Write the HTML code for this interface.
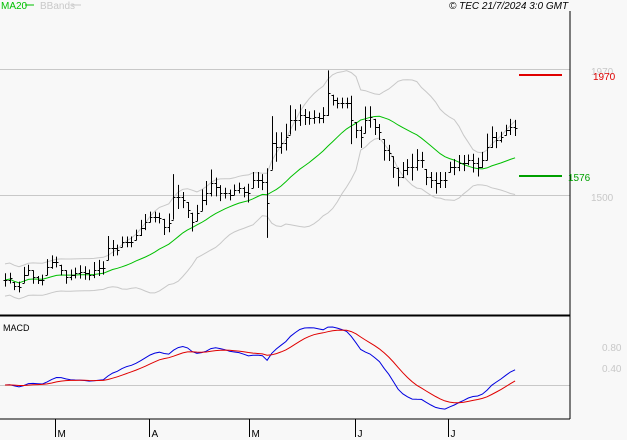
<!DOCTYPE html>
<html><head><meta charset="utf-8"><style>
html,body{margin:0;padding:0;background:#f8f8f8;}
svg{display:block;font-family:"Liberation Sans",sans-serif;}
</style></head><body>
<svg id="chart" width="627" height="440">
<rect x="0" y="0" width="627" height="440" fill="#f8f8f8"/>
<text x="1" y="9" font-size="10" fill="#00c000">MA20</text>
<line x1="25" y1="5" x2="34" y2="5" stroke="#00c000"/>
<text x="40" y="9" font-size="10" fill="#c8c8c8">BBands</text>
<line x1="72" y1="5" x2="81" y2="5" stroke="#c8c8c8"/>
<text x="449" y="9" font-size="10" font-style="italic" fill="#000">© TEC 21/7/2024 3:0 GMT</text>
<g id="grid"></g>
<g id="bands"></g>
<g id="bars"></g>
<g id="macd"></g>
<line x1="570" y1="11" x2="570" y2="419" stroke="#000"/>
<line x1="0" y1="315.5" x2="570" y2="315.5" stroke="#000" stroke-width="2"/>
<line x1="0" y1="419" x2="570" y2="419" stroke="#000"/>
<text x="3" y="331" font-size="9" fill="#000">MACD</text>
<g id="xaxis"></g>
<g id="levels"></g>
</svg>
<script>
const closes=[1183,1190,1160,1157,1202,1220,1194,1183,1183,1231,1250,1250,1220,1194,1202,1209,1213,1209,1202,1220,1228,1228,1302,1302,1295,1325,1325,1325,1351,1377,1399,1418,1418,1414,1381,1396,1493,1493,1481,1444,1399,1433,1481,1507,1545,1530,1507,1507,1500,1519,1526,1511,1507,1556,1556,1548,1470,
1694,1679,1694,1716,1780,1780,1798,1791,1787,1791,1787,1798,1880,1854,1843,1843,1843,1780,1742,1716,1780,1791,1754,1735,1668,1657,1604,1567,1593,1604,1604,1631,1631,1567,1556,1545,1556,1556,1604,1604,1619,1619,1631,1619,1604,1631,1679,1716,1705,1716,1742,1754,1750];
const spreads=[50,40,30,40,60,40,50,30,40,60,50,40,40,50,40,40,50,50,40,60,60,50,90,60,40,40,40,40,40,60,60,40,40,40,60,70,170,90,60,60,70,60,80,90,100,70,60,40,40,40,40,40,70,60,60,60,260,
200,110,80,100,110,80,80,60,50,50,40,60,170,40,40,40,40,180,60,80,100,80,60,60,80,60,80,70,60,60,100,80,60,60,60,80,60,60,40,60,60,60,40,70,70,60,100,80,60,40,40,60,60,50];
const levelValues=[1970,1576];
const gridValues=[1970,1500];
const macdTicks=["0.80","0.40"];
const monthLabels=["M","A","M","J","J"];
const monthBars=[10.7,30.8,52.1,74.8,94.7];

const NS="http://www.w3.org/2000/svg";
function mk(t,a,p){const e=document.createElementNS(NS,t);for(const k in a)e.setAttribute(k,a[k]);p.appendChild(e);return e;}
const yP=p=>195-(p-1500)*126/470;
const xB=i=>5+i*4.68;
const n=closes.length;

const grid=document.getElementById('grid');
gridValues.forEach(v=>{
 const l=mk('line',{x1:0,x2:570,y1:Math.round(yP(v))+0.5,y2:Math.round(yP(v))+0.5,stroke:'#c8c8c8'},grid);
 
 
 const t=mk('text',{x:591,y:yP(v)+6,'font-size':10,fill:'#c8c8c8'},grid);t.textContent=v;
 
 
});

const ma=[],up=[],lo=[];
for(let i=0;i<n;i++){const s=Math.max(0,i-19);const w=closes.slice(s,i+1);const m=w.reduce((a,b)=>a+b,0)/w.length;
 const sd=Math.sqrt(w.reduce((a,b)=>a+(b-m)*(b-m),0)/w.length);const sdd=Math.max(sd,30);
 ma.push(m);up.push(m+2*sdd);lo.push(m-2*sdd);}
const bands=document.getElementById('bands');
function path(arr,f){return arr.map((v,i)=>(i?'L':'M')+xB(i).toFixed(1)+','+f(v).toFixed(1)).join('');}
const bu=mk('path',{d:path(up,yP),fill:'none',stroke:'#c8c8c8'},bands);


const bl=mk('path',{d:path(lo,yP),fill:'none',stroke:'#c8c8c8'},bands);


const mal=mk('path',{d:path(ma,yP),fill:'none',stroke:'#00c000'},bands);



const bars=document.getElementById('bars');
closes.forEach((c,i)=>{
 const x=Math.round(xB(i))+0.5;const h=c+spreads[i]*0.5,l=c-spreads[i]*0.5;const o=i?closes[i-1]:c;
 const g=mk('g',{},bars);
 
 
 mk('line',{x1:x,x2:x,y1:yP(h),y2:yP(l),stroke:'#000'},g);
 mk('line',{x1:x,x2:x+2,y1:Math.round(yP(c))+0.5,y2:Math.round(yP(c))+0.5,stroke:'#000'},g);
 mk('line',{x1:x-2,x2:x,y1:Math.round(yP(Math.min(h,Math.max(l,o))))+0.5,y2:Math.round(yP(Math.min(h,Math.max(l,o))))+0.5,stroke:'#000'},g);
});

function ema(a,p){const k=2/(p+1);const r=[a[0]];for(let i=1;i<a.length;i++)r.push(a[i]*k+r[i-1]*(1-k));return r;}
const e12=ema(closes,12),e26=ema(closes,26);const macd=e12.map((v,i)=>v-e26[i]);const sig=ema(macd,9);
const mx=Math.max(...macd);const s=58/mx;const yM=v=>385-v*s;
const mg=document.getElementById('macd');
mk('line',{x1:0,x2:570,y1:385.5,y2:385.5,stroke:'#c8c8c8'},mg);
macdTicks.forEach((t,i)=>{const e=mk('text',{x:602,y:351+i*21,'font-size':10,fill:'#c8c8c8'},mg);e.textContent=t;
 
 });
const mb=mk('path',{d:path(macd,yM),fill:'none',stroke:'#0000e0'},mg);


const ms=mk('path',{d:path(sig,yM),fill:'none',stroke:'#e00000'},mg);



const xa=document.getElementById('xaxis');
monthLabels.forEach((m,i)=>{const x=Math.round(xB(monthBars[i]))+0.5;
 const l=mk('line',{x1:x,x2:x,y1:419,y2:437,stroke:'#000'},xa);
 
 
 const t=mk('text',{x:x+2,y:437,'font-size':10,fill:'#000'},xa);t.textContent=m;
 
 });

const lv=document.getElementById('levels');
const cols=['#e00000','#00a000'];const lx=[593,568];
levelValues.forEach((v,i)=>{const y=i?176:75;
 const l=mk('line',{x1:519,x2:562,y1:y,y2:y,stroke:cols[i],'stroke-width':2},lv);
 
 
 const t=mk('text',{x:lx[i],y:y+5,'font-size':10,fill:cols[i]},lv);t.textContent=v;
 
 });
</script>
</body></html>
